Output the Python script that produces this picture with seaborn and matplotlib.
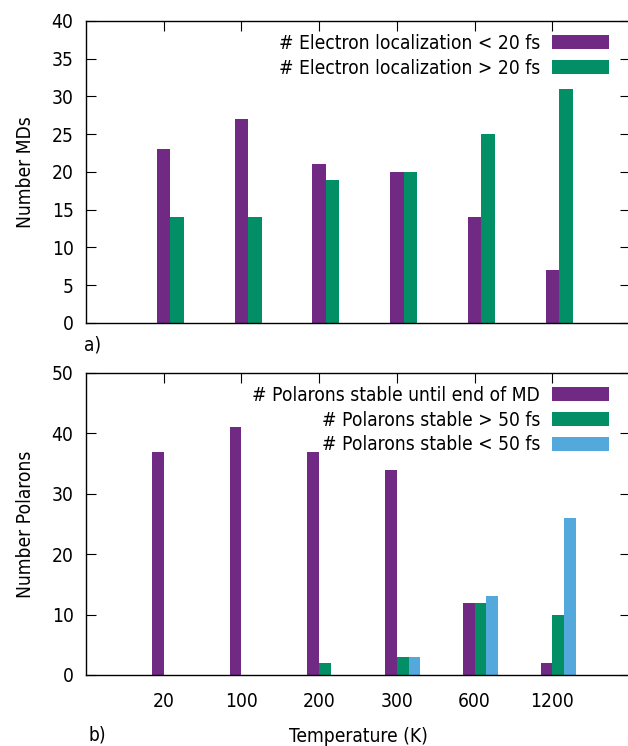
import matplotlib
matplotlib.use("Agg")
import matplotlib.pyplot as plt
import numpy as np
import pandas as pd
import seaborn as sns

# ---- data ----
temperatures = ["20", "100", "200", "300", "600", "1200"]

loc_fast = [23, 27, 21, 20, 14, 7]      # Electron localization < 20 fs
loc_slow = [14, 14, 19, 20, 25, 31]     # Electron localization > 20 fs
labels_a = ["# Electron localization < 20 fs", "# Electron localization > 20 fs"]

pol_end = [37, 41, 37, 34, 12, 2]       # stable until end of MD
pol_gt50 = [0, 0, 2, 3, 12, 10]         # stable > 50 fs
pol_lt50 = [0, 0, 0, 3, 13, 26]         # stable < 50 fs
labels_b = ["# Polarons stable until end of MD", "# Polarons stable > 50 fs",
            "# Polarons stable < 50 fs"]

c_purple = "#712a84"
c_green = "#028f66"
c_blue = "#53a8dc"

sns.set_theme(style="white")
plt.rcParams["font.family"] = ["DejaVu Sans"]
plt.rcParams["font.stretch"] = "condensed"
plt.rcParams["font.size"] = 13.8
plt.rcParams["text.color"] = "black"
plt.rcParams["axes.labelcolor"] = "black"
plt.rcParams["xtick.color"] = "black"
plt.rcParams["ytick.color"] = "black"

FS = 13.8


def build(series, labels, offsets):
    rows = []
    for vals, lab, off in zip(series, labels, offsets):
        for i, v in enumerate(vals):
            rows.append({"pos": i + off, "value": v, "series": lab})
    return pd.DataFrame(rows)


fig = plt.figure(figsize=(6.28, 7.46), dpi=100)
ax1 = fig.add_axes([86 / 628, 1 - 323 / 746, 544 / 628, 302 / 746])
ax2 = fig.add_axes([86 / 628, 1 - 675 / 746, 544 / 628, 302 / 746])

wa = 0.174
df_a = build([loc_fast, loc_slow], labels_a, [0.0, wa])
sns.barplot(data=df_a, x="pos", y="value", hue="series", native_scale=True,
            dodge=False, width=1.0, palette=[c_purple, c_green], saturation=1,
            linewidth=0, edgecolor="none", ax=ax1, errorbar=None)

wb = 0.15
df_b = build([pol_end, pol_gt50, pol_lt50], labels_b, [-wb / 2, wb / 2, 1.5 * wb])
sns.barplot(data=df_b, x="pos", y="value", hue="series", native_scale=True,
            dodge=False, width=1.0, palette=[c_purple, c_green, c_blue], saturation=1,
            linewidth=0, edgecolor="none", ax=ax2, errorbar=None)

for ax, ymax, ystep, ylab in [(ax1, 40, 5, "Number MDs"), (ax2, 50, 10, "Number Polarons")]:
    ax.set_xlim(-1, 6)
    ax.set_ylim(0, ymax)
    ax.set_yticks(np.arange(0, ymax + 1, ystep))
    ax.set_xticks(range(len(temperatures)))
    for s in ax.spines.values():
        s.set_color("black")
        s.set_linewidth(1.0)
    ax.tick_params(axis="y", which="both", direction="in", length=7, width=0.8,
                   left=True, right=True, labelsize=FS, pad=9, colors="black")
    ax.tick_params(axis="x", which="both", direction="in", length=7, width=0.8,
                   top=True, bottom=False, labelsize=FS, pad=12, colors="black")
    ax.set_ylabel(ylab, fontsize=FS, labelpad=12, color="black")
    ax.set_xlabel("")
    leg = ax.get_legend()
    handles = leg.legend_handles
    labs = [t.get_text() for t in leg.get_texts()]
    leg.remove()
    ax.legend(handles, labs, loc="upper right", bbox_to_anchor=(1 - 21 / 544, 1 - 13 / 302),
              markerfirst=False, frameon=False, fontsize=FS, handlelength=3.0,
              handleheight=0.75, handletextpad=0.6, labelspacing=0.3,
              borderaxespad=0, borderpad=0, labelcolor="black")

ax1.set_xticklabels([])
ax2.set_xticklabels(temperatures)
ax2.set_xlabel("Temperature (K)", fontsize=FS, labelpad=12, color="black")

fig.text(84 / 628, 1 - 345 / 746, "a)", fontsize=FS, ha="left", va="center")
fig.text(88 / 628, 1 - 735 / 746, "b)", fontsize=FS, ha="left", va="center")

fig.savefig("out.png", dpi=100)
